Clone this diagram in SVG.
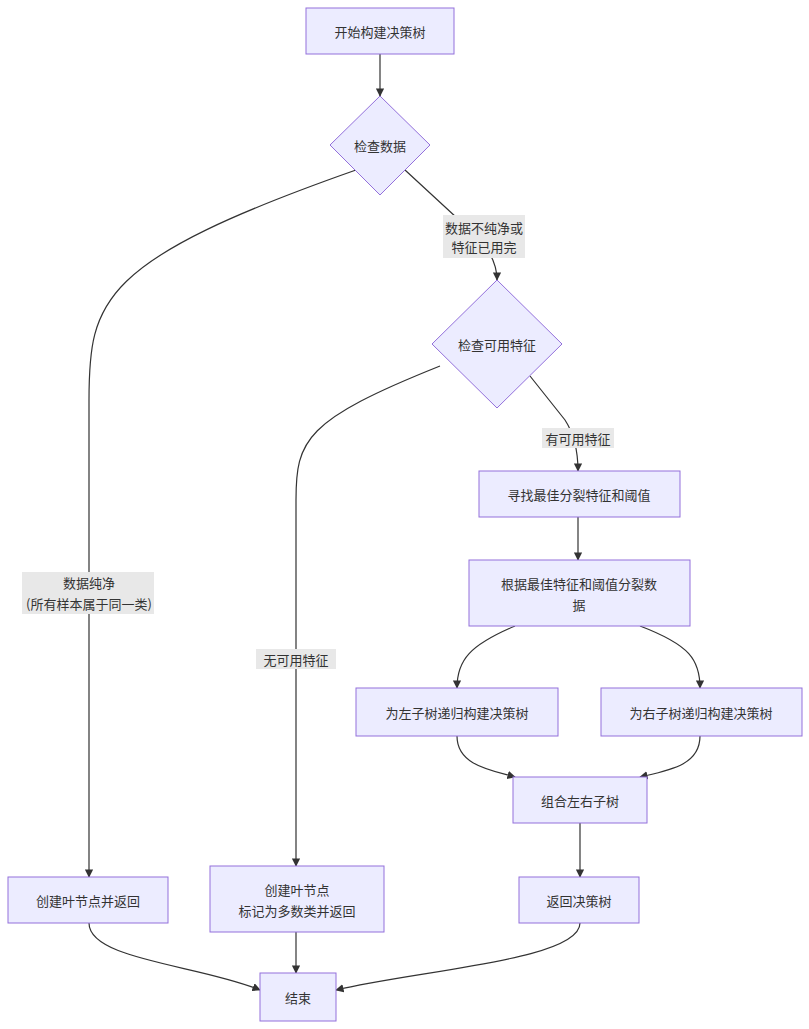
<svg xmlns="http://www.w3.org/2000/svg" width="809" height="1029" viewBox="0 0 809 1029">
<style>
.n{fill:#ECECFF;stroke:#9370DB;stroke-width:1}
.t{font-family:"Noto Sans CJK SC","Liberation Sans",sans-serif;font-size:13px;fill:#333;text-anchor:middle;dominant-baseline:central}
.e{fill:none;stroke:#333;stroke-width:1.2;marker-end:url(#a)}
.lb{fill:#e8e8e8}
</style>
<defs><marker id="a" viewBox="0 0 10 10" refX="9" refY="5" markerWidth="7" markerHeight="7" orient="auto"><path d="M0,0L10,5L0,10z" fill="#333"/></marker></defs>
<rect width="809" height="1029" fill="#fff"/>
<g id="edges">
<path class="e" d="M380,54L380,96"/>
<path class="e" d="M405,170L470,230Q497,254 497,280"/>
<path class="e" d="M356,170C100,260 89,300 89,400L89,877"/>
<path class="e" d="M530,376L565,420Q578,440 578,471"/>
<path class="e" d="M440,366C305,420 296,440 296,500L296,866"/>
<path class="e" d="M578,517L578,560"/>
<path class="e" d="M515,626C470,645 457,660 457,688"/>
<path class="e" d="M640,626C690,645 700,660 700,688"/>
<path class="e" d="M457,736C457,765 490,770 515,777"/>
<path class="e" d="M700,736C700,765 670,770 640,777"/>
<path class="e" d="M580,823L580,877"/>
<path class="e" d="M89,923C89,960 200,965 260,990"/>
<path class="e" d="M296,932L296,973"/>
<path class="e" d="M580,923C580,960 420,970 336,990"/>
<rect class="lb" x="443" y="215" width="82" height="43"/>
<text class="t" x="484" y="227">数据不纯净或</text><text class="t" x="484" y="246">特征已用完</text>
<rect class="lb" x="542" y="428" width="72" height="20"/>
<text class="t" x="578" y="438">有可用特征</text>
<rect class="lb" x="22" y="572" width="132" height="42"/>
<text class="t" x="89" y="582">数据纯净</text><text class="t" x="89" y="603">(所有样本属于同一类)</text>
<rect class="lb" x="256" y="649" width="80" height="20"/>
<text class="t" x="296" y="659">无可用特征</text>
</g>
<g id="start"><rect class="n" x="306" y="8" width="148" height="46"/><text class="t" x="380" y="31">开始构建决策树</text></g>
<g id="check1"><path class="n" d="M380,96L430,145L380,195L330,145Z"/><text class="t" x="380" y="145">检查数据</text></g>
<g id="check2"><path class="n" d="M497,280L562,344L497,408L432,344Z"/><text class="t" x="497" y="344">检查可用特征</text></g>
<g id="find"><rect class="n" x="479" y="471" width="201" height="46"/><text class="t" x="579" y="494">寻找最佳分裂特征和阈值</text></g>
<g id="split"><rect class="n" x="469" y="560" width="221" height="66"/><text class="t" x="579" y="583">根据最佳特征和阈值分裂数</text><text class="t" x="579" y="604">据</text></g>
<g id="left"><rect class="n" x="356" y="688" width="202" height="48"/><text class="t" x="457" y="712">为左子树递归构建决策树</text></g>
<g id="right"><rect class="n" x="601" y="688" width="201" height="48"/><text class="t" x="701" y="712">为右子树递归构建决策树</text></g>
<g id="combine"><rect class="n" x="513" y="777" width="134" height="46"/><text class="t" x="580" y="800">组合左右子树</text></g>
<g id="ret"><rect class="n" x="519" y="877" width="120" height="46"/><text class="t" x="579" y="900">返回决策树</text></g>
<g id="leaf1"><rect class="n" x="8" y="877" width="160" height="46"/><text class="t" x="88" y="900">创建叶节点并返回</text></g>
<g id="leaf2"><rect class="n" x="210" y="866" width="174" height="66"/><text class="t" x="297" y="889">创建叶节点</text><text class="t" x="297" y="910">标记为多数类并返回</text></g>
<g id="end"><rect class="n" x="260" y="973" width="76" height="48"/><text class="t" x="298" y="997">结束</text></g>
</svg>
